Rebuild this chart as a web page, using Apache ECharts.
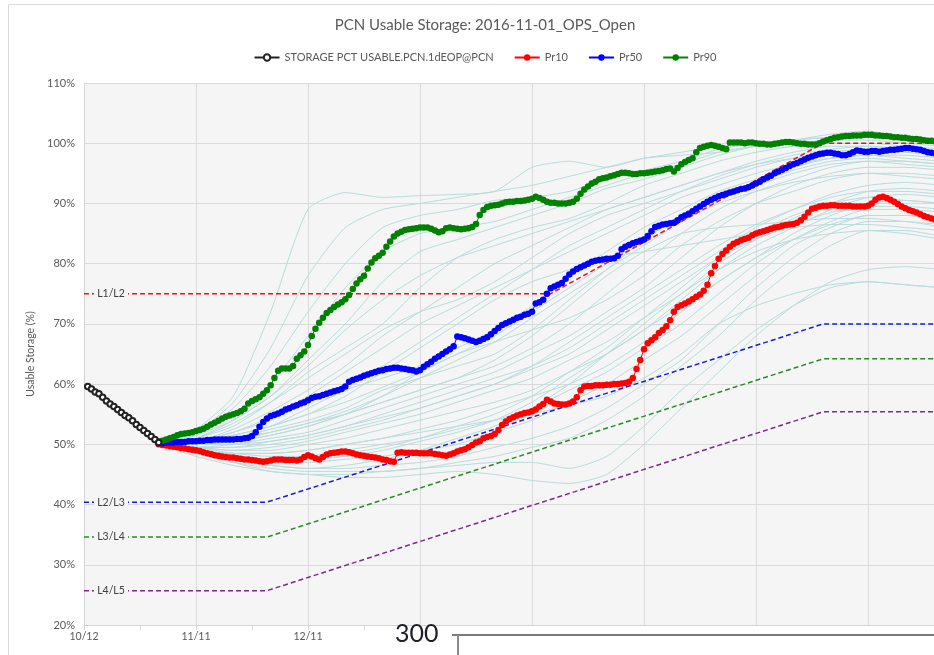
<!DOCTYPE html>
<html>
<head>
<meta charset="utf-8">
<title>PCN Usable Storage</title>
<script src="https://cdn.jsdelivr.net/npm/echarts@6/dist/echarts.min.js"></script>
<style>
html, body { margin: 0; padding: 0; overflow: hidden; background: #fff; }
#storageChart { width: 970px; height: 655px; }
</style>
</head>
<body>
<div id="storageChart"></div>
<script>
// x = days since 10/12/2016
const xTickLabels = ['10/12', '11/11', '12/11', '1/10', '2/9', '3/11', '4/10', '5/10', '6/9'];

// observed storage, one value per day from day 1
const obsStart = 1;
const obsVals = [59.6, 59.2, 58.7, 58.4, 57.8, 57.2, 56.7, 56.3, 55.8, 55.3,
  54.8, 54.4, 53.9, 53.3, 52.8, 52.3, 51.8, 51.3, 50.8, 50.3];

// forecast percentiles, one value per day from day 20
const fcStart = 20;
const pr10 = [50.0, 49.9, 49.8, 49.7, 49.6, 49.5, 49.4, 49.3, 49.2, 49.1,
  49.0, 48.9, 48.7, 48.5, 48.4, 48.2, 48.1, 48.0, 47.9, 47.8,
  47.8, 47.7, 47.6, 47.5, 47.5, 47.4, 47.3, 47.2, 47.1, 47.2,
  47.3, 47.5, 47.5, 47.5, 47.4, 47.4, 47.4, 47.3, 47.5, 47.9,
  48.2, 48.0, 47.7, 47.5, 47.9, 48.3, 48.5, 48.6, 48.7, 48.8,
  48.8, 48.7, 48.5, 48.3, 48.2, 48.1, 48.0, 47.9, 47.8, 47.7,
  47.5, 47.4, 47.2, 47.1, 48.6, 48.7, 48.6, 48.6, 48.6, 48.6,
  48.5, 48.5, 48.5, 48.5, 48.4, 48.3, 48.2, 48.1, 48.3, 48.5,
  48.8, 49.0, 49.2, 49.5, 49.9, 50.3, 50.5, 51.0, 51.2, 51.4,
  51.7, 52.4, 53.2, 53.8, 54.2, 54.5, 54.8, 55.0, 55.2, 55.3,
  55.5, 55.8, 56.3, 56.7, 57.4, 57.1, 56.8, 56.7, 56.6, 56.6,
  56.8, 57.1, 57.8, 59.0, 59.6, 59.7, 59.7, 59.8, 59.8, 59.8,
  59.9, 59.9, 60.0, 60.0, 60.1, 60.2, 60.4, 61.0, 62.5, 64.0,
  65.8, 66.8, 67.3, 67.8, 68.5, 69.0, 69.6, 70.6, 72.0, 72.8,
  73.1, 73.4, 73.7, 74.1, 74.5, 74.9, 75.5, 76.5, 78.4, 79.6,
  80.8, 81.6, 82.2, 82.8, 83.3, 83.6, 83.9, 84.1, 84.3, 84.7,
  85.0, 85.2, 85.4, 85.6, 85.8, 86.0, 86.1, 86.3, 86.4, 86.5,
  86.6, 86.8, 87.2, 87.8, 88.5, 89.1, 89.3, 89.5, 89.6, 89.6,
  89.7, 89.7, 89.6, 89.6, 89.6, 89.6, 89.5, 89.5, 89.5, 89.5,
  89.6, 90.0, 90.6, 91.0, 91.1, 90.9, 90.6, 90.3, 89.9, 89.5,
  89.2, 88.9, 88.7, 88.5, 88.2, 87.9, 87.7, 87.5, 87.3, 87.1, 86.9];
const pr50 = [50.2, 50.2, 50.3, 50.3, 50.3, 50.4, 50.4, 50.4, 50.5, 50.5,
  50.5, 50.6, 50.6, 50.7, 50.7, 50.8, 50.8, 50.8, 50.8, 50.8,
  50.8, 50.9, 50.9, 51.0, 51.1, 51.4, 52.0, 52.9, 53.7, 54.3,
  54.7, 54.9, 55.1, 55.4, 55.8, 56.0, 56.3, 56.5, 56.8, 57.0,
  57.3, 57.7, 57.9, 58.0, 58.2, 58.4, 58.6, 58.8, 59.0, 59.2,
  59.6, 60.4, 60.7, 60.9, 61.1, 61.4, 61.6, 61.8, 62.0, 62.2,
  62.3, 62.5, 62.6, 62.7, 62.7, 62.6, 62.5, 62.4, 62.3, 62.1,
  62.3, 62.9, 63.3, 63.7, 64.2, 64.6, 65.0, 65.4, 65.8, 66.3,
  67.9, 67.8, 67.6, 67.4, 67.2, 67.0, 67.2, 67.5, 67.8, 68.3,
  68.8, 69.3, 69.8, 70.1, 70.4, 70.7, 71.0, 71.2, 71.5, 71.7,
  72.0, 73.4, 73.6, 74.0, 75.0, 75.9, 76.2, 76.5, 76.8, 77.5,
  78.2, 78.7, 79.1, 79.4, 79.7, 80.0, 80.3, 80.5, 80.6, 80.7,
  80.8, 80.8, 80.9, 81.3, 82.4, 82.8, 83.1, 83.4, 83.6, 83.8,
  84.0, 84.6, 85.4, 86.1, 86.3, 86.5, 86.6, 86.7, 86.8, 87.2,
  87.7, 88.0, 88.3, 88.7, 89.1, 89.5, 89.9, 90.3, 90.6, 90.9,
  91.2, 91.4, 91.6, 91.8, 92.0, 92.2, 92.4, 92.5, 92.7, 93.0,
  93.3, 93.6, 94.0, 94.3, 94.6, 95.0, 95.3, 95.6, 95.9, 96.2,
  96.5, 96.7, 97.0, 97.3, 97.6, 97.8, 98.0, 98.2, 98.3, 98.4,
  98.4, 98.3, 98.2, 98.0, 98.0, 98.2, 98.5, 98.8, 98.7, 98.6,
  98.6, 98.7, 98.7, 98.6, 98.7, 98.8, 98.9, 98.9, 99.0, 99.1,
  99.2, 99.2, 99.1, 99.0, 98.9, 98.7, 98.5, 98.4, 98.3, 98.2, 98.1];
const pr90 = [50.5, 50.6, 50.8, 51.0, 51.2, 51.5, 51.7, 51.8, 51.9, 52.0,
  52.2, 52.4, 52.6, 52.9, 53.3, 53.6, 53.9, 54.3, 54.6, 54.8,
  55.0, 55.2, 55.5, 55.9, 56.8, 57.2, 57.5, 57.8, 58.4, 59.0,
  59.8, 61.0, 62.2, 62.6, 62.6, 62.6, 63.0, 64.2, 64.8, 65.4,
  66.5, 68.0, 69.2, 70.2, 71.0, 71.8, 72.3, 72.8, 73.2, 73.6,
  74.1, 74.8, 75.8, 76.7, 77.4, 78.0, 79.2, 80.2, 80.9, 81.3,
  81.8, 82.8, 83.7, 84.5, 85.0, 85.3, 85.6, 85.7, 85.8, 85.9,
  86.0, 86.0, 86.0, 85.8, 85.5, 85.2, 85.4, 85.9, 86.0, 85.9,
  85.8, 85.7, 85.8, 85.9, 86.1, 86.6, 88.1, 88.9, 89.4, 89.6,
  89.7, 89.8, 90.0, 90.2, 90.3, 90.3, 90.4, 90.4, 90.5, 90.6,
  90.8, 91.1, 90.9, 90.6, 90.3, 90.1, 90.1, 90.0, 90.0, 90.0,
  90.1, 90.3, 90.8, 91.6, 92.3, 92.8, 93.3, 93.6, 94.0, 94.2,
  94.3, 94.5, 94.7, 94.9, 95.1, 95.1, 95.0, 94.9, 94.9, 95.0,
  95.0, 95.1, 95.2, 95.3, 95.4, 95.5, 95.7, 95.8, 95.3, 95.9,
  96.5, 96.9, 97.2, 97.5, 98.5, 99.2, 99.4, 99.6, 99.7, 99.6,
  99.4, 99.2, 99.0, 100.1, 100.1, 100.1, 100.1, 100.0, 100.1, 100.1,
  100.0, 99.9, 99.9, 99.8, 99.8, 99.9, 100.0, 100.1, 100.2, 100.2,
  100.1, 100.0, 99.9, 99.9, 99.8, 99.8, 99.8, 100.0, 100.3, 100.5,
  100.7, 100.9, 101.0, 101.1, 101.2, 101.2, 101.3, 101.3, 101.3, 101.4,
  101.4, 101.4, 101.3, 101.3, 101.2, 101.2, 101.1, 101.0, 101.0, 100.9,
  100.9, 100.8, 100.7, 100.7, 100.6, 100.5, 100.4, 100.4, 100.3, 100.3, 100.2];

// ensemble members, sampled every 10 days
const ensDays = [20, 30, 40, 50, 60, 70, 80, 90, 100, 110, 120, 130, 140, 150, 160, 170, 180, 190, 200, 210, 220, 230];
const ensTraces = [
  [50, 52.5, 58, 72, 89, 91.8, 91, 91.3, 91.5, 92, 96, 97, 96, 97.5, 98, 98.5, 99.5, 100.5, 101.5, 102, 101, 100.5],
  [50, 52, 56, 63, 72, 80, 86, 88, 89, 90.5, 91, 92, 94, 95.5, 97, 99, 100, 100.5, 101, 101.5, 101, 100.5],
  [50, 51.5, 55, 60, 68, 76, 82, 85, 86, 87, 89, 91, 93, 95, 96.5, 98.5, 99.5, 100, 100.5, 101, 100.5, 100],
  [50, 51, 54, 58, 64, 70, 77, 82, 84, 86, 88, 90, 92.5, 94, 96, 98, 99.5, 100, 100.5, 100.5, 100, 99.5],
  [50, 51, 53, 57, 62, 66, 70, 76, 81, 84, 86, 87.5, 90, 93, 95, 97, 98.5, 99.5, 100, 100, 99.5, 99],
  [50, 50.5, 52.5, 55.5, 59, 63, 68, 72, 76, 80, 83, 86, 89, 91, 93, 95, 97, 98.5, 99.5, 99.5, 99, 98.5],
  [50, 50.5, 52, 54, 57, 60, 63, 67, 71, 75, 79, 83, 86, 89, 92, 94.5, 96.5, 98, 99, 99.5, 99, 98.5],
  [50, 50.5, 51.5, 53, 56, 59, 61, 63, 66, 69, 73, 78, 82, 86, 89, 92, 94, 96, 97.5, 98, 97.5, 97],
  [50, 50, 51, 52.5, 54, 56, 59, 61, 63, 65, 69, 74, 79, 84, 88, 91, 93.5, 95.5, 97, 97.5, 97, 96.5],
  [50, 50, 50.5, 52, 53.5, 55, 57, 59, 61, 63, 66, 70, 75, 80, 85, 89, 92, 94, 96, 97, 97, 96.5],
  [50, 49.5, 50, 51, 52, 54, 56, 58, 60, 62, 65, 68, 72, 76, 81, 86, 90, 93, 95, 96, 96, 95.5],
  [50, 50, 50.5, 51.5, 53, 55, 58, 62, 65, 67, 69, 71, 74, 78, 83, 87, 90, 92, 94, 95, 95, 94.5],
  [50, 49.5, 49.5, 50.5, 51.5, 53, 55, 57, 59, 61, 63, 66, 70, 74, 78, 82, 86, 89, 91.5, 93, 93.5, 93],
  [50, 49.5, 49, 49.5, 50.5, 52, 53.5, 55, 57, 59, 61, 64, 67, 71, 75, 80, 84, 87.5, 90, 92, 92.5, 92],
  [50, 49.5, 49, 49, 50, 51, 52.5, 54, 55.5, 57, 59, 62, 65, 69, 74, 79, 83, 86, 89, 91, 91.5, 91],
  [50, 49, 48.5, 48.5, 49, 50, 51, 52.5, 54, 56, 58, 60, 63, 67, 72, 77, 81, 85, 88, 90, 90.5, 90],
  [50, 49, 48, 47.5, 48, 49, 50, 51, 52.5, 54, 56, 59, 62, 66, 70, 75, 80, 84, 87, 89, 89, 88.5],
  [50, 49, 48, 47, 47, 47.5, 48, 49, 50, 52, 54, 57, 60, 64, 68, 73, 78, 83, 86, 88, 88, 87.5],
  [50, 48.5, 47.5, 46.5, 46, 46, 46.5, 47, 48, 49.5, 51, 53, 56, 60, 64, 70, 76, 81, 85, 87, 87, 86],
  [50, 48.5, 47, 46, 45.5, 45.5, 45.5, 46, 47, 48, 49.5, 51, 54, 58, 63, 68, 74, 79, 83, 85.5, 85.5, 84.5],
  [50, 48.5, 47, 45.5, 45, 44.5, 44.5, 45, 45.5, 45, 44, 43.5, 45, 50, 56, 62, 68, 73, 77, 79, 79.5, 79],
  [50, 48, 46.5, 45.5, 45, 45, 45.5, 46, 46.5, 47, 47, 46, 48, 53, 59, 64, 69, 73, 76, 77, 76.5, 76],
  [50, 49, 48.5, 48.5, 49, 50, 51, 52, 53, 54, 55, 56.5, 58, 61, 65, 70, 73, 75, 76.5, 77, 76.5, 76],
  [50, 50, 50.5, 51.5, 53, 55, 57, 59, 61, 64, 68, 73, 78, 82, 85, 86, 86.5, 87, 87.5, 87.5, 87, 86.5],
  [50, 50.5, 51.5, 53, 55, 58, 62, 66, 70, 74, 77, 79, 81, 82, 83, 84, 85, 86, 86.5, 86.5, 86, 85.5],
  [50, 50.5, 52, 54.5, 58, 62, 66, 70, 73, 76, 79, 82, 85, 88, 91, 93, 95, 96.5, 97.5, 98, 98, 97.5],
  [50, 51, 53.5, 57, 61, 65, 69, 72, 74, 77, 81, 85, 88, 90, 92, 94, 96, 97.5, 98.5, 99, 98.5, 98],
  [50, 50, 51, 52, 53.5, 55.5, 58, 61, 64, 67, 71, 75, 79, 83, 87, 90, 92, 93.5, 94.5, 95, 94.5, 94],
  [50, 49.5, 49.5, 50, 51, 52.5, 54, 56, 58, 60, 62.5, 65, 69, 73, 77, 81, 84, 86.5, 88.5, 89.5, 89.5, 89],
  [50, 50, 50, 50.5, 51.5, 53, 54.5, 56, 58, 60, 63, 67, 71, 75, 79, 83, 86.5, 89, 91, 92, 92, 91.5],
  [50, 51.5, 54, 58, 63, 69, 74, 78, 81, 83, 85, 87, 89, 91, 93, 95, 96.5, 97.5, 98.5, 99, 99, 98.5],
  [50, 49.5, 48.5, 48, 48, 48.5, 49.5, 51, 53, 55, 58, 62, 66, 71, 76, 81, 85, 88, 90, 91, 90.5, 90],
  [50, 50.5, 51.5, 53, 55, 57, 59.5, 62, 65, 68, 72, 76, 80, 84, 88, 91, 93, 95, 96.5, 97, 96.5, 96],
  [50, 49, 48, 47.5, 47.5, 48, 49, 50.5, 52, 54, 57, 61, 65, 69, 73, 77, 81, 84, 86.5, 88, 88, 87.5],
  [50, 52, 57, 66, 78, 86, 89, 90, 91, 92, 93, 94.5, 96, 97.5, 98.5, 99.5, 100, 100.5, 101, 101, 100.5, 100],
  [50, 49, 47.5, 46.5, 46, 46.5, 47.5, 49, 51, 53, 56, 60, 65, 70, 75, 79, 82, 84, 85, 85.5, 85, 84]
];

// level thresholds
const l12Days = [0, 125, 198, 240];
const l12Vals = [75, 75, 100, 100];
const l23Days = [0, 49, 198, 240];
const l23Vals = [40.4, 40.4, 70, 70];
const l34Days = [0, 49, 198, 240];
const l34Vals = [34.6, 34.6, 64.2, 64.2];
const l45Days = [0, 49, 198, 240];
const l45Vals = [25.7, 25.7, 55.4, 55.4];

const FONT = 'Lato';
const PLOT_BG = '#f5f5f5';

function pairs(days, vals) {
  return vals.map((v, i) => [days[i], v]);
}
function daily(start, vals) {
  return vals.map((v, i) => [start + i, v]);
}

function thresholdSeries(name, days, vals, color) {
  return {
    name: name,
    type: 'line',
    data: pairs(days, vals),
    showSymbol: false,
    silent: true,
    z: 2,
    lineStyle: { color: color, width: 1.5, type: [5, 3] },
    markPoint: {
      symbol: 'rect',
      symbolSize: [34, 12],
      symbolOffset: [27, 0],
      silent: true,
      itemStyle: { color: PLOT_BG },
      label: { show: true, formatter: name, color: '#404040', fontSize: 10.5, fontFamily: FONT },
      data: [{ coord: [days[0], vals[0]] }]
    }
  };
}

let chart = echarts.init(document.getElementById('storageChart'));

let series = [];
ensTraces.forEach((t, i) => {
  series.push({
    name: 'member' + (i + 1),
    type: 'line',
    data: pairs(ensDays, t),
    smooth: 0.2,
    showSymbol: false,
    silent: true,
    z: 1,
    lineStyle: { color: '#b8dcdc', width: 1 }
  });
});
series.push(thresholdSeries('L1/L2', l12Days, l12Vals, '#e8141a'));
series.push(thresholdSeries('L2/L3', l23Days, l23Vals, '#1c1cd0'));
series.push(thresholdSeries('L3/L4', l34Days, l34Vals, '#2a8a2a'));
series.push(thresholdSeries('L4/L5', l45Days, l45Vals, '#7b2a8c'));
series.push({
  name: 'STORAGE PCT USABLE.PCN.1dEOP@PCN',
  type: 'line',
  data: daily(obsStart, obsVals),
  symbol: 'emptyCircle',
  symbolSize: 5.5,
  z: 4,
  itemStyle: { color: '#222', borderWidth: 1 },
  lineStyle: { color: '#222', width: 1 }
});
[['Pr10', pr10, '#ff0000'], ['Pr50', pr50, '#0000ff'], ['Pr90', pr90, '#008000']].forEach(s => {
  series.push({
    name: s[0],
    type: 'line',
    data: daily(fcStart, s[1]),
    symbol: 'circle',
    symbolSize: 6.5,
    showAllSymbol: true,
    z: 3,
    itemStyle: { color: s[2] },
    lineStyle: { color: s[2], width: 1 }
  });
});

let option = {
  animation: false,
  backgroundColor: '#fff',
  title: {
    text: 'PCN Usable Storage: 2016-11-01_OPS_Open',
    left: 'center',
    top: 13,
    textStyle: { fontFamily: FONT, fontSize: 15, fontWeight: 'normal', color: '#595959' }
  },
  legend: {
    data: ['STORAGE PCT USABLE.PCN.1dEOP@PCN', 'Pr10', 'Pr50', 'Pr90'],
    left: 'center',
    top: 47,
    itemWidth: 25,
    itemHeight: 8,
    itemGap: 20,
    textStyle: { fontFamily: FONT, fontSize: 11, color: '#595959' }
  },
  grid: {
    left: 84, top: 83, width: 896, height: 542,
    show: true, backgroundColor: PLOT_BG, borderWidth: 0,
    containLabel: false, outerBoundsMode: 'none'
  },
  xAxis: {
    type: 'value',
    min: 0, max: 240, interval: 30,
    axisLine: { show: true, lineStyle: { color: '#d4d4d4' } },
    axisTick: { show: true, length: 5, lineStyle: { color: '#d4d4d4' } },
    minorTick: { show: true, splitNumber: 2, length: 5, lineStyle: { color: '#d4d4d4' } },
    splitLine: { show: true, lineStyle: { color: '#dadada' } },
    axisLabel: {
      fontFamily: FONT, fontSize: 10.5, color: '#595959', margin: 6,
      formatter: v => xTickLabels[Math.round(v / 30)]
    }
  },
  yAxis: {
    type: 'value',
    min: 20, max: 110, interval: 10,
    name: 'Usable Storage (%)',
    nameLocation: 'middle',
    nameGap: 42,
    nameTextStyle: { fontFamily: FONT, fontSize: 10.5, color: '#595959' },
    axisLine: { show: true, lineStyle: { color: '#d4d4d4' } },
    axisTick: { show: false },
    splitLine: { show: true, lineStyle: { color: '#dadada' } },
    axisLabel: { fontFamily: FONT, fontSize: 11, color: '#595959', margin: 9, formatter: '{value}%' }
  },
  graphic: [
    { type: 'rect', z: -1, silent: true, shape: { x: 8.5, y: 4.5, width: 1200, height: 1200 },
      style: { fill: 'none', stroke: '#d9d9d9', lineWidth: 1 } },
    { type: 'rect', z: 100, silent: true, shape: { x: 383, y: 626, width: 700, height: 40 },
      style: { fill: '#fff' } },
    { type: 'text', z: 101, silent: true, left: 395, top: 621,
      style: { text: '300', fontFamily: FONT, fontSize: 25, fill: '#1e1e2a' } },
    { type: 'line', z: 101, silent: true, shape: { x1: 452, y1: 635, x2: 1100, y2: 635 },
      style: { stroke: '#7a7a7a', lineWidth: 2 } },
    { type: 'line', z: 101, silent: true, shape: { x1: 458, y1: 635, x2: 458, y2: 660 },
      style: { stroke: '#8a8a8a', lineWidth: 2 } }
  ],
  series: series
};
chart.setOption(option);
</script>
</body>
</html>
